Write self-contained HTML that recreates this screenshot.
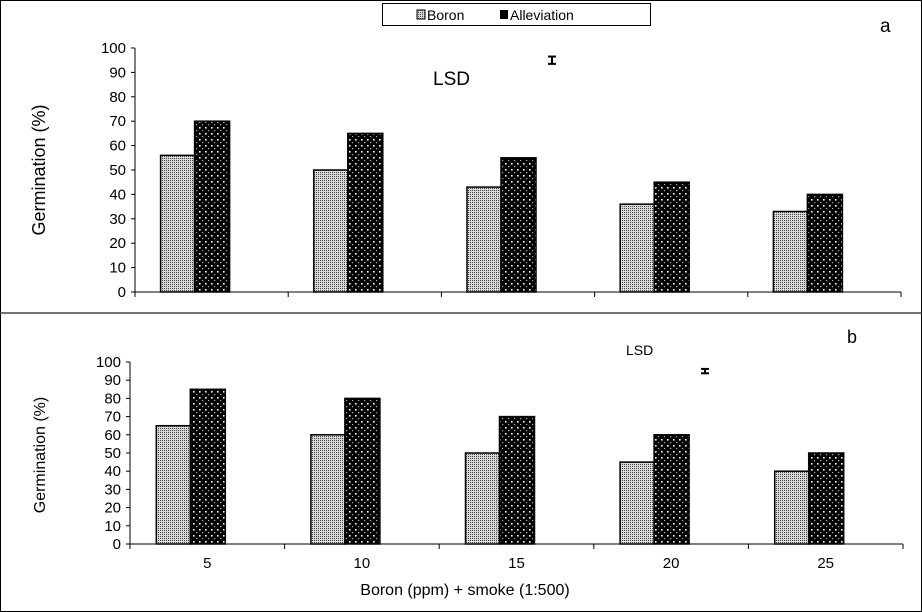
<!DOCTYPE html>
<html><head><meta charset="utf-8"><style>
body{margin:0;background:#fff;}
svg{display:block;font-family:"Liberation Sans",Arial,sans-serif;}
</style></head><body>
<svg id="chart" width="922" height="612" viewBox="0 0 922 612" xmlns="http://www.w3.org/2000/svg">
<defs>
<pattern id="pBoron" width="2" height="2" patternUnits="userSpaceOnUse">
<rect width="2" height="2" fill="#d8d8d8"/><rect width="1" height="1" fill="#444"/>
</pattern>
<pattern id="pAll" width="6" height="6" patternUnits="userSpaceOnUse">
<rect width="6" height="6" fill="#000"/><rect x="1" y="1" width="1.6" height="1.6" fill="#fff"/><rect x="4" y="4" width="1.2" height="1.2" fill="#aaa"/>
</pattern>
</defs>
<rect x="0.5" y="0.5" width="921" height="611" fill="#fff" stroke="#000"/>
<line x1="0" y1="313" x2="922" y2="313" stroke="#444" stroke-width="1.5"/>
<g>
<rect x="382.5" y="3.5" width="268" height="22" fill="#fff" stroke="#000"/>
<rect x="417" y="10" width="8" height="9" fill="url(#pBoron)" stroke="#000"/>
<text x="427" y="20" font-size="14">Boron</text>
<rect x="500" y="10" width="8" height="9" fill="#000"/>
<text x="510" y="20" font-size="14">Alleviation</text>
</g>
<text x="880" y="32" font-size="19">a</text>
<text x="847" y="343" font-size="18">b</text>
<text x="433" y="85" font-size="19">LSD</text>
<text x="626" y="355" font-size="14">LSD</text>
<g id="plots"></g>
<text x="465" y="595" font-size="16" text-anchor="middle">Boron (ppm) + smoke (1:500)</text>
</svg>
<script>
const categories = ["5","10","15","20","25"];
const boronA = [56,50,43,36,33];
const alleviationA = [70,65,55,45,40];
const boronB = [65,60,50,45,40];
const alleviationB = [85,80,70,60,50];
const yTicks = [0,10,20,30,40,50,60,70,80,90,100];
const lsdA = 1.5, lsdB = 1.2;
const NS="http://www.w3.org/2000/svg";
const g=document.getElementById('plots');
function mk(tag,attrs,parent){const e=document.createElementNS(NS,tag);for(const k in attrs)e.setAttribute(k,attrs[k]);(parent||g).appendChild(e);return e;}
function panel(p){
  const y=v=>p.y0-(v/100)*(p.y0-p.y100);
  const cw=(p.x1-p.x0)/categories.length;
  const x=i=>p.x0+i*cw;
  const grp=mk('g',{});
  
  
  const ax=mk('line',{x1:p.x0,y1:p.y100,x2:p.x0,y2:p.y0,stroke:'#000'},grp);
  
  
  const xa=mk('line',{x1:p.x0,y1:p.y0,x2:p.x1,y2:p.y0,stroke:'#000'},grp);
  
  
  yTicks.forEach(t=>{
    mk('line',{x1:p.x0-4,y1:y(t),x2:p.x0,y2:y(t),stroke:'#000'},grp);
    const tx=mk('text',{x:p.x0-9,y:y(t)+5,'font-size':p.fs,'text-anchor':'end'},grp);
    tx.textContent=t;
    
    
  });
  for(let i=0;i<=categories.length;i++) mk('line',{x1:x(i),y1:p.y0,x2:x(i),y2:p.y0+5,stroke:'#000'},grp);
  categories.forEach((c,i)=>{
    const cx=x(i)+cw/2-17;
    const b=mk('rect',{x:cx-34,y:y(p.b[i]),width:34,height:p.y0-y(p.b[i]),fill:'url(#pBoron)',stroke:'#000','stroke-width':1.5},grp);
    
    
    const a=mk('rect',{x:cx,y:y(p.a[i]),width:35,height:p.y0-y(p.a[i]),fill:'url(#pAll)',stroke:'#000','stroke-width':1.5},grp);
    
    
    if(p.labels){
      const t=mk('text',{x:x(i)+cw/2,y:p.y0+24,'font-size':15,'text-anchor':'middle'},grp);
      t.textContent=c;
      
      
    }
  });
  const yt=mk('text',{transform:`translate(${p.tx},${p.ty}) rotate(-90)`,'font-size':p.tfs,'text-anchor':'middle'},grp);
  yt.textContent='Germination  (%)';
  
  
  const ey=y(p.lsdY), h=(p.lsd/100)*(p.y0-p.y100);
  const eb=mk('g',{stroke:'#000','stroke-width':2},grp);
  
  
  mk('line',{x1:p.ex,y1:ey-h,x2:p.ex,y2:ey+h},eb);
  mk('line',{x1:p.ex-4,y1:ey-h,x2:p.ex+4,y2:ey-h},eb);
  mk('line',{x1:p.ex-4,y1:ey+h,x2:p.ex+4,y2:ey+h},eb);
}
panel({id:'a',x0:135,x1:901,y0:292,y100:48,b:boronA,a:alleviationA,fs:15,tfs:18,tx:45,ty:170,labels:false,lsd:lsdA,lsdY:95,ex:552});
panel({id:'b',x0:130,x1:903,y0:544,y100:362,b:boronB,a:alleviationB,fs:15,tfs:16,tx:45,ty:455,labels:true,lsd:lsdB,lsdY:95,ex:705});
</script>
</body></html>
